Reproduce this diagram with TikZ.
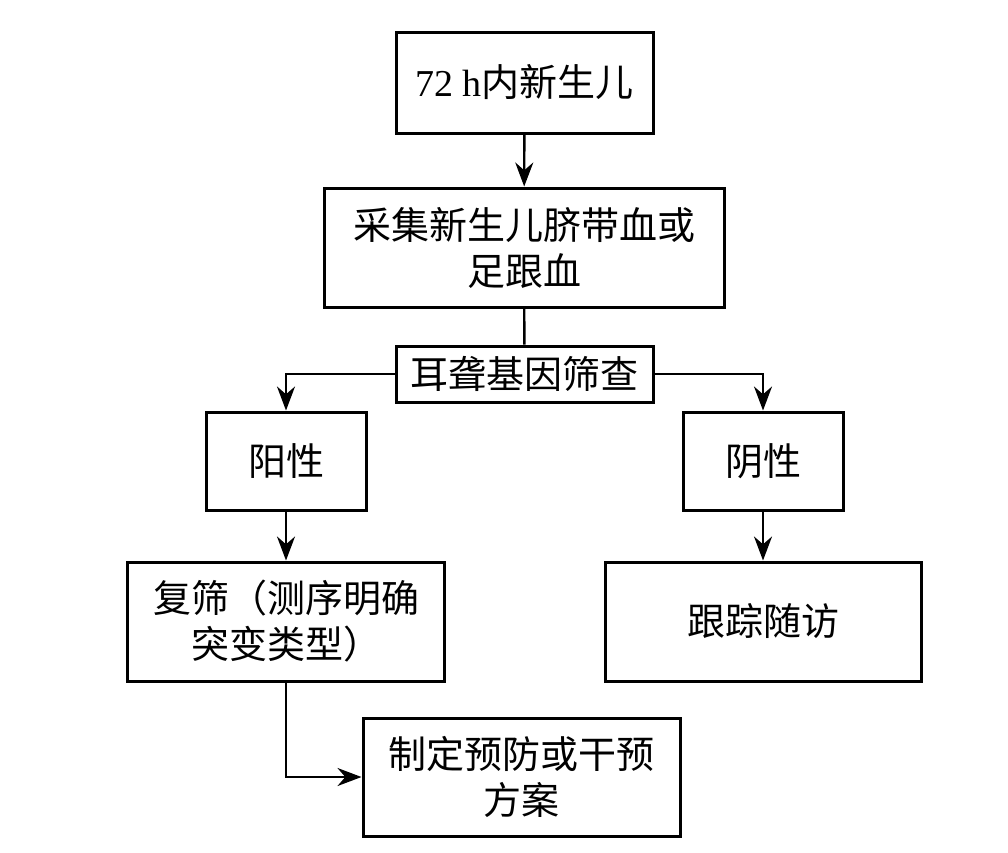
\documentclass[tikz,border=0pt]{standalone}
\usepackage{fontspec}
\setmainfont{Liberation Serif}
\newfontfamily\cjk{Noto Sans CJK SC}
\usetikzlibrary{arrows.meta}

\tikzset{
  stepbox/.style={draw,line width=3pt,inner sep=0pt,align=center,
    font=\cjk\fontsize{38}{46}\selectfont},
  flowarrow/.style={line width=2.4pt,-{Stealth[length=24pt,width=18pt]}},
  flowline/.style={line width=2.4pt}
}

\begin{document}
\begin{tikzpicture}[x=1pt,y=-1pt]
                \useasboundingbox (0,0) rectangle (1008,852);
                \node[stepbox,minimum width=257,minimum height=101] (born) at (524.5,82.5){{\rmfamily 72 h}内新生儿};
                \node[stepbox,minimum width=400,minimum height=119] (blood) at (524,247.5){采集新生儿脐带血或\\足跟血};
                \node[stepbox,minimum width=257,minimum height=56] (screen) at (524.5,374){耳聋基因筛查};
                \node[stepbox,minimum width=160,minimum height=98] (pos) at (286,461){阳性};
                \node[stepbox,minimum width=160,minimum height=98] (neg) at (763,461){阴性};
                \node[stepbox,minimum width=317,minimum height=119] (recheck) at (286,621.5){复筛（测序明确\\突变类型）};
                \node[stepbox,minimum width=316,minimum height=119] (follow) at (763,621.5){跟踪随访};
                \node[stepbox,minimum width=317,minimum height=118] (plan) at (521.5,777){制定预防或干预\\方案};
                \draw[flowarrow] (born) -- (blood);
                \draw[flowline] (blood) -- (screen);
                \draw[flowarrow] (screen.west) -| (pos.north);
                \draw[flowarrow] (screen.east) -| (neg.north);
                \draw[flowarrow] (pos) -- (recheck);
                \draw[flowarrow] (neg) -- (follow);
                \draw[flowarrow] (recheck.south) |- (plan.west);
            \end{tikzpicture}
\end{document}
